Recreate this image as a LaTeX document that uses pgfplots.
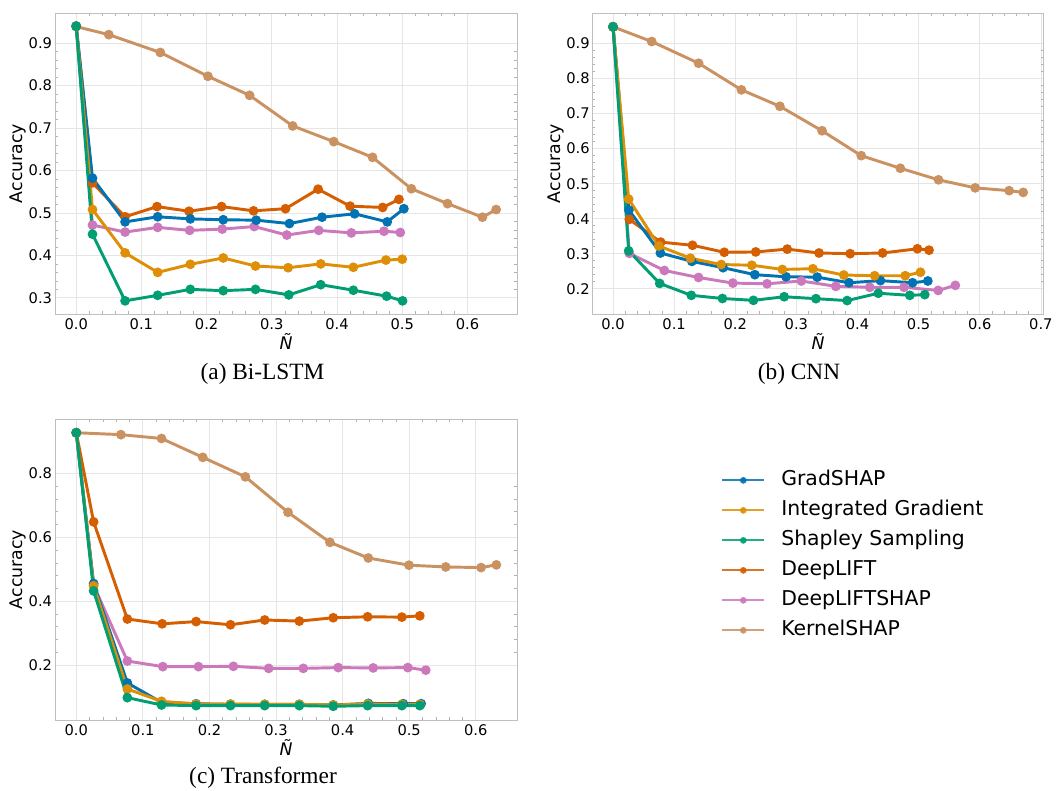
\documentclass[border=0pt]{standalone}
\usepackage{pgfplots}
\pgfplotsset{compat=1.18}
\usepackage{fontspec}
\setmainfont{DejaVu Sans}
\newfontfamily\capfont{Liberation Serif}
\definecolor{cBlue}{HTML}{0173B2}
\definecolor{cOrange}{HTML}{DE8F05}
\definecolor{cGreen}{HTML}{029E73}
\definecolor{cRed}{HTML}{D55E00}
\definecolor{cPink}{HTML}{CC78BC}
\definecolor{cBrown}{HTML}{CA9161}
\pgfplotsset{
  base/.style={
    scale only axis, height=225.75pt,
    axis line style={draw=black!25, line width=0.6pt},
    grid=major, major grid style={draw=black!10, line width=0.6pt},
    tick align=inside, major tick length=0pt, minor tick length=2pt,
    minor x tick num=4, minor y tick num=4,
    every minor tick/.style={draw=black!30, line width=0.4pt},
    every tick label/.append style={font=\fontsize{11}{13}\selectfont},
    /pgf/number format/assume math mode=true,
    /pgf/number format/fixed, /pgf/number format/fixed zerofill, /pgf/number format/precision=1,
    xticklabel style={inner ysep=3pt},
    yticklabel style={inner xsep=2pt},
    xlabel={\textit{Ñ}}, ylabel={Accuracy},
    every axis x label/.style={at={([yshift=-21pt]axis description cs:0.5,0)}, anchor=center, font=\fontsize{13}{15}\selectfont},
    every axis y label/.style={at={([xshift=-27.75pt]axis description cs:0,0.5)}, anchor=center, rotate=90, font=\fontsize{13}{15}\selectfont},
    every axis plot/.append style={line width=2.2pt, mark=*, mark size=2.5pt, forget plot},
  },
  sBlue/.style={cBlue, mark options={fill=cBlue, draw=cBlue}},
  sOrange/.style={cOrange, mark options={fill=cOrange, draw=cOrange}},
  sGreen/.style={cGreen, mark options={fill=cGreen, draw=cGreen}},
  sRed/.style={cRed, mark options={fill=cRed, draw=cRed}},
  sPink/.style={cPink, mark options={fill=cPink, draw=cPink}},
  sBrown/.style={cBrown, mark options={fill=cBrown, draw=cBrown}},
}
\begin{document}
\begin{tikzpicture}
\useasboundingbox (0,0) rectangle (797.25pt,592.5pt);
% (a) Bi-LSTM
\begin{axis}[base, at={(41.25pt,357pt)}, anchor=south west, width=346.5pt,
  xmin=-0.0325, xmax=0.676, ymin=0.262, ymax=0.971,
  xtick={0,0.1,0.2,0.3,0.4,0.5,0.6}, ytick={0.3,0.4,0.5,0.6,0.7,0.8,0.9}]
\addplot[sBrown] coordinates {(0,0.939) (0.050,0.920) (0.129,0.878) (0.202,0.822) (0.266,0.777) (0.332,0.705) (0.395,0.668) (0.4545,0.631) (0.514,0.557) (0.5695,0.522) (0.623,0.490) (0.644,0.508)};
\addplot[sPink] coordinates {(0,0.94) (0.025,0.4715) (0.075,0.455) (0.125,0.466) (0.174,0.459) (0.224,0.462) (0.273,0.468) (0.323,0.448) (0.372,0.459) (0.422,0.453) (0.472,0.457) (0.497,0.454)};
\addplot[sRed] coordinates {(0,0.94) (0.025,0.571) (0.075,0.491) (0.124,0.515) (0.173,0.504) (0.223,0.515) (0.272,0.505) (0.321,0.510) (0.371,0.556) (0.420,0.516) (0.470,0.513) (0.495,0.532)};
\addplot[sBlue] coordinates {(0,0.94) (0.025,0.582) (0.075,0.479) (0.125,0.491) (0.175,0.486) (0.2255,0.484) (0.276,0.483) (0.327,0.475) (0.377,0.490) (0.427,0.498) (0.477,0.479) (0.5025,0.510)};
\addplot[sOrange] coordinates {(0,0.94) (0.025,0.508) (0.075,0.406) (0.125,0.360) (0.175,0.379) (0.2255,0.394) (0.275,0.375) (0.325,0.371) (0.375,0.380) (0.425,0.372) (0.475,0.389) (0.500,0.391)};
\addplot[sGreen] coordinates {(0,0.94) (0.025,0.450) (0.075,0.293) (0.125,0.306) (0.175,0.320) (0.2255,0.317) (0.275,0.320) (0.326,0.307) (0.375,0.331) (0.425,0.318) (0.476,0.304) (0.5005,0.293)};
\end{axis}
% (b) CNN
\begin{axis}[base, at={(444.5pt,357pt)}, anchor=south west, width=338pt,
  xmin=-0.0333, xmax=0.704, ymin=0.1277, ymax=0.9875,
  xtick={0,0.1,0.2,0.3,0.4,0.5,0.6,0.7}, ytick={0.2,0.3,0.4,0.5,0.6,0.7,0.8,0.9}]
\addplot[sBrown] coordinates {(0,0.948) (0.0633,0.906) (0.140,0.844) (0.210,0.768) (0.273,0.721) (0.342,0.651) (0.406,0.580) (0.470,0.544) (0.5325,0.511) (0.5925,0.488) (0.648,0.480) (0.671,0.475)};
\addplot[sPink] coordinates {(0,0.948) (0.0267,0.301) (0.084,0.252) (0.140,0.232) (0.196,0.216) (0.252,0.214) (0.308,0.222) (0.3645,0.2067) (0.420,0.204) (0.476,0.204) (0.532,0.195) (0.560,0.2095)};
\addplot[sRed] coordinates {(0,0.948) (0.0267,0.398) (0.078,0.333) (0.130,0.324) (0.182,0.304) (0.2335,0.305) (0.285,0.313) (0.337,0.302) (0.388,0.300) (0.441,0.302) (0.498,0.314) (0.517,0.310)};
\addplot[sBlue] coordinates {(0,0.948) (0.026,0.4245) (0.0775,0.302) (0.129,0.278) (0.180,0.260) (0.232,0.240) (0.283,0.234) (0.334,0.233) (0.386,0.217) (0.4375,0.223) (0.490,0.217) (0.515,0.222)};
\addplot[sOrange] coordinates {(0,0.948) (0.0256,0.456) (0.075,0.322) (0.1266,0.287) (0.177,0.269) (0.227,0.267) (0.277,0.255) (0.327,0.257) (0.3775,0.239) (0.428,0.237) (0.478,0.237) (0.503,0.247)};
\addplot[sGreen] coordinates {(0,0.948) (0.0256,0.308) (0.0764,0.215) (0.128,0.181) (0.179,0.172) (0.2297,0.1667) (0.280,0.177) (0.332,0.1715) (0.383,0.166) (0.434,0.187) (0.4855,0.181) (0.510,0.183)};
\end{axis}
% (c) Transformer
\begin{axis}[base, at={(41.25pt,52.5pt)}, anchor=south west, width=346.5pt,
  xmin=-0.032, xmax=0.662, ymin=0.028, ymax=0.970,
  xtick={0,0.1,0.2,0.3,0.4,0.5,0.6}, ytick={0.2,0.4,0.6,0.8},
  legend style={draw=none, fill=none, at={(rel axis cs:1.4416,0.828)}, anchor=north west,
    inner sep=0pt, row sep=8.5pt,
    nodes={inner sep=0pt, text height=11pt, text depth=3pt, font=\fontsize{15.3}{18}\selectfont},
    /tikz/every odd column/.append style={column sep=12pt}},
  legend cell align=left,
  legend image code/.code={\draw[#1, line width=1.5pt, mark size=1.75pt, opacity=0.85, mark repeat=2, mark phase=2] plot coordinates {(0pt,0pt) (15.75pt,0pt) (31.5pt,0pt)};}]
\addplot[sBrown] coordinates {(0,0.927) (0.067,0.921) (0.128,0.909) (0.190,0.850) (0.254,0.789) (0.318,0.678) (0.381,0.584) (0.4386,0.535) (0.4997,0.5125) (0.555,0.507) (0.608,0.505) (0.631,0.5135)};
\addplot[sPink] coordinates {(0,0.927) (0.026,0.450) (0.0767,0.2125) (0.130,0.195) (0.1835,0.195) (0.236,0.196) (0.289,0.1896) (0.341,0.1896) (0.3935,0.192) (0.446,0.191) (0.498,0.192) (0.525,0.184)};
\addplot[sRed] coordinates {(0,0.927) (0.026,0.648) (0.0767,0.344) (0.129,0.329) (0.180,0.336) (0.2316,0.326) (0.283,0.341) (0.335,0.3375) (0.386,0.348) (0.4376,0.351) (0.489,0.350) (0.516,0.354)};
\addplot[sBlue] coordinates {(0,0.927) (0.026,0.455) (0.0767,0.144) (0.128,0.083) (0.180,0.079) (0.2316,0.077) (0.283,0.077) (0.335,0.077) (0.386,0.075) (0.4386,0.080) (0.491,0.079) (0.518,0.079)};
\addplot[sOrange] coordinates {(0,0.927) (0.026,0.448) (0.0767,0.125) (0.128,0.0865) (0.180,0.078) (0.2316,0.078) (0.283,0.077) (0.335,0.077) (0.386,0.075) (0.4376,0.078) (0.489,0.077) (0.516,0.077)};
\addplot[sGreen] coordinates {(0,0.927) (0.026,0.432) (0.0767,0.098) (0.128,0.075) (0.180,0.073) (0.2316,0.073) (0.283,0.073) (0.335,0.073) (0.386,0.071) (0.4376,0.073) (0.489,0.073) (0.516,0.073)};
\addlegendimage{sBlue}\addlegendentry{GradSHAP}
\addlegendimage{sOrange}\addlegendentry{Integrated Gradient}
\addlegendimage{sGreen}\addlegendentry{Shapley Sampling}
\addlegendimage{sRed}\addlegendentry{DeepLIFT}
\addlegendimage{sPink}\addlegendentry{DeepLIFTSHAP}
\addlegendimage{sBrown}\addlegendentry{KernelSHAP}
\end{axis}
\node[anchor=base, font=\capfont\fontsize{17.5}{20}\selectfont] at (196.9pt,308.25pt) {(a) Bi-LSTM};
\node[anchor=base, font=\capfont\fontsize{17.5}{20}\selectfont] at (599.25pt,308.25pt) {(b) CNN};
\node[anchor=base, font=\capfont\fontsize{17.5}{20}\selectfont] at (197.25pt,5.25pt) {(c) Transformer};
\end{tikzpicture}
\end{document}
